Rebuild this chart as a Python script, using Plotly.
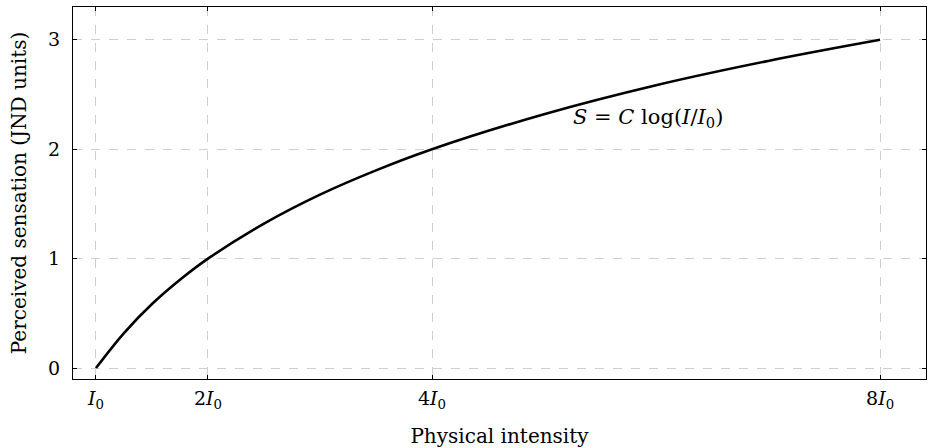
import plotly.graph_objects as go

intensity = [1, 1.25, 1.5, 1.75, 2, 2.5, 3, 3.5, 4, 5, 6, 7, 8]
sensation = [0, 0.32, 0.585, 0.807, 1, 1.32, 1.585, 1.807, 2, 2.32, 2.585, 2.807, 3]
x_tickvals = [1, 2, 4, 8]
x_ticktext = ["<i>I</i><sub>0</sub>", "2<i>I</i><sub>0</sub>", "4<i>I</i><sub>0</sub>", "8<i>I</i><sub>0</sub>"]
y_tickvals = [0, 1, 2, 3]
label_text = "<i>S</i> = <i>C</i> log(<i>I</i>/<i>I</i><sub>0</sub>)"

FONT = "DejaVu Serif, Liberation Serif, serif"

fig = go.Figure()
fig.add_trace(go.Scatter(x=intensity, y=sensation, mode="lines",
                         line=dict(color="black", width=2.6, shape="spline", smoothing=1.0),
                         showlegend=False, hoverinfo="skip"))

fig.add_annotation(x=5.24, y=2.285, xref="x", yref="y", text=label_text,
                   showarrow=False, xanchor="left", yanchor="middle",
                   font=dict(family=FONT, size=21, color="black"))

axis_common = dict(showline=True, mirror="ticks", linecolor="black", linewidth=1,
                   showgrid=True, gridcolor="#cfcfcf", griddash="dash", gridwidth=1,
                   ticks="inside", ticklen=4, tickcolor="black", zeroline=False,
                   automargin=False,
                   tickfont=dict(family=FONT, size=19, color="black"))

fig.update_xaxes(range=[0.795, 8.41], tickvals=x_tickvals, ticktext=x_ticktext,
                 ticklabelstandoff=2,
                 title=dict(text="Physical intensity", font=dict(family=FONT, size=20, color="black"), standoff=18),
                 **axis_common)
fig.update_yaxes(range=[-0.1, 3.3], tickvals=y_tickvals, ticklabelstandoff=8,
                 title=dict(text="Perceived sensation (JND units)", font=dict(family=FONT, size=20, color="black"), standoff=16),
                 **axis_common)

fig.update_layout(width=929, height=448, margin=dict(l=73, r=3, t=7, b=69),
                  paper_bgcolor="white", plot_bgcolor="white",
                  font=dict(family=FONT, color="black"))

fig.write_html("out.html", config={"displayModeBar": False},
               post_script="document.body.style.margin='0';")
